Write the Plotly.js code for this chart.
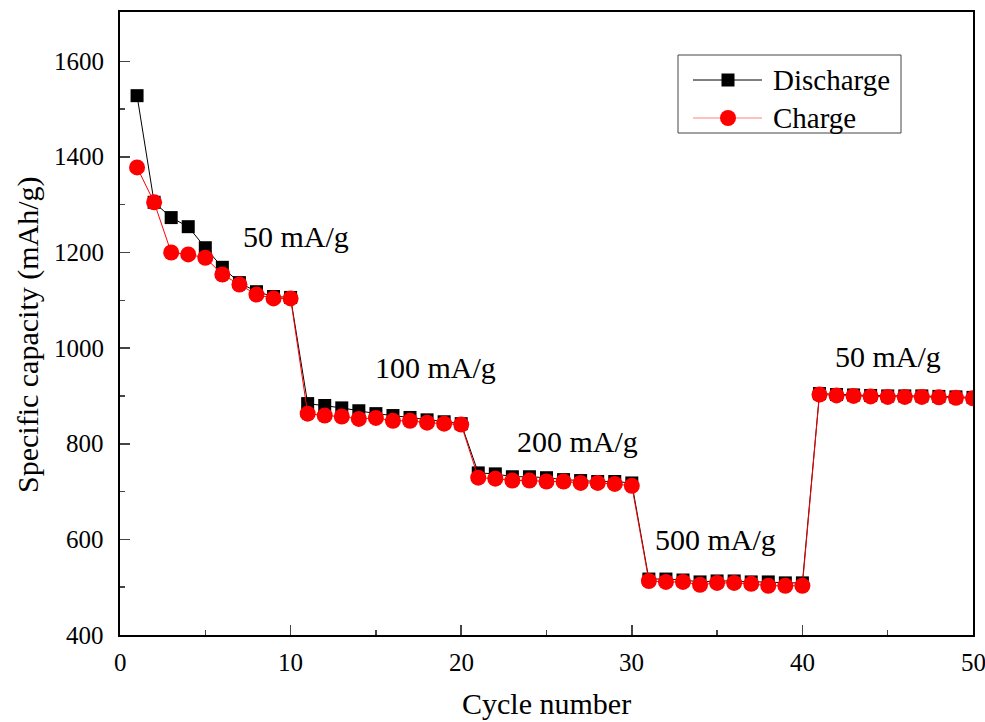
<!DOCTYPE html>
<html>
<head>
<meta charset="utf-8">
<script src="https://cdn.plot.ly/plotly-3.0.1.min.js"></script>
<style>html,body{margin:0;padding:0;background:#fff;}#chart{width:985px;height:722px;}</style>
</head>
<body>
<div id="chart"></div>
<script>
const cycles = [1,2,3,4,5,6,7,8,9,10,11,12,13,14,15,16,17,18,19,20,21,22,23,24,25,26,27,28,29,30,31,32,33,34,35,36,37,38,39,40,41,42,43,44,45,46,47,48,49,50];
const discharge = [1528,1305,1273,1254,1210,1169,1137,1118,1108,1106,
  884,880,875,869,863,859,855,850,846,842,
  739,737,731,731,729,725,723,721,721,718,
  517,517,515,511,513,513,511,511,509,509,
  905,903,902,901,900,900,900,899,898,897];
const charge = [1378,1305,1200,1196,1189,1154,1133,1112,1104,1104,
  863,859,857,852,854,848,848,844,842,840,
  729,727,723,723,721,721,718,718,716,712,
  513,511,511,505,509,509,507,503,503,503,
  903,901,900,899,898,898,898,897,896,895];
const seriesNames = ["Discharge","Charge"];
const xTicks = [0,10,20,30,40,50];
const xMinor = [5,15,25,35,45];
const yTicks = [400,600,800,1000,1200,1400,1600];
const yMinor = [500,700,900,1100,1300,1500];
const xTitle = "Cycle number";
const yTitle = "Specific capacity (mAh/g)";
const rateLabels = ["50 mA/g","100 mA/g","200 mA/g","500 mA/g","50 mA/g"];
const rateX = [10.3,18.5,26.8,34.9,45.0];
const rateY = [1233,959,804,599,982];

const FONT = "'Liberation Serif', 'Times New Roman', serif";
const W = 985, H = 722, ML = 120, MR = 12, MT = 12, MB = 87;
const PW = W - ML - MR, PH = H - MT - MB;
const px = v => (v - ML) / PW;           // pixel x -> paper x
const py = v => (H - MB - v) / PH;       // pixel y -> paper y

const traces = [
  {x: cycles, y: discharge, name: seriesNames[0], type: "scatter", mode: "lines+markers",
   line: {color: "#000000", width: 1},
   marker: {symbol: "square", size: 13, color: "#000000"}},
  {x: cycles, y: charge, name: seriesNames[1], type: "scatter", mode: "lines+markers",
   line: {color: "#ff0000", width: 1},
   marker: {symbol: "circle", size: 16, color: "#ff0000"}}
];

const annotations = rateLabels.map((t,i)=>({
  x: rateX[i], y: rateY[i], xref: "x", yref: "y", text: t, showarrow: false,
  font: {family: FONT, size: 30, color: "#000"}
}));
// tick labels
xTicks.forEach(v => annotations.push({x: v, y: py(662), xref: "x", yref: "paper", text: String(v),
  showarrow: false, xanchor: "center", yanchor: "middle", font: {family: FONT, size: 25, color: "#000"}}));
yTicks.forEach(v => annotations.push({x: px(106), y: v, xref: "paper", yref: "y", text: String(v),
  showarrow: false, xanchor: "right", yanchor: "middle", font: {family: FONT, size: 25, color: "#000"}}));
// axis titles
annotations.push({x: px(546), y: py(703), xref: "paper", yref: "paper", text: xTitle,
  showarrow: false, xanchor: "center", yanchor: "middle", font: {family: FONT, size: 30, color: "#000"}});
annotations.push({x: px(28), y: py(335), xref: "paper", yref: "paper", text: yTitle,
  textangle: -90, showarrow: false, xanchor: "center", yanchor: "middle",
  font: {family: FONT, size: 30, color: "#000"}});
// legend texts
const legRows = [80, 118];
const legColors = ["#000000", "#ff0000"];
seriesNames.forEach((n,i)=>{
  annotations.push({x: px(771), y: py(legRows[i]), xref: "paper", yref: "paper", text: n,
    showarrow: false, xanchor: "left", yanchor: "middle",
    font: {family: FONT, size: 29, color: "#000"}});
});

const shapes = [
  {type: "rect", xref: "paper", yref: "paper", x0: px(678), x1: px(901), y0: py(55), y1: py(133),
   line: {color: "#444", width: 1}, fillcolor: "#fff", layer: "above"},
  {type: "line", xref: "paper", yref: "paper", x0: px(693), x1: px(762), y0: py(legRows[0]), y1: py(legRows[0]),
   line: {color: legColors[0], width: 1}, layer: "above"},
  {type: "rect", xref: "paper", yref: "paper", x0: px(721.5), x1: px(734.5), y0: py(legRows[0]-6.5), y1: py(legRows[0]+6.5),
   line: {width: 0}, fillcolor: legColors[0], layer: "above"},
  {type: "line", xref: "paper", yref: "paper", x0: px(693), x1: px(762), y0: py(legRows[1]), y1: py(legRows[1]),
   line: {color: "#ff8080", width: 1}, layer: "above"},
  {type: "circle", xref: "paper", yref: "paper", x0: px(720), x1: px(736), y0: py(legRows[1]-8), y1: py(legRows[1]+8),
   line: {width: 0}, fillcolor: legColors[1], layer: "above"}
];

const layout = {
  width: W, height: H,
  margin: {l: ML, r: MR, t: MT, b: MB},
  paper_bgcolor: "#fff", plot_bgcolor: "#fff",
  font: {family: FONT, color: "#000", size: 24},
  showlegend: false,
  xaxis: {range: [0, 50], tickmode: "array", tickvals: xTicks, showticklabels: false,
    ticks: "inside", ticklen: 10, tickwidth: 1.5,
    minor: {tickvals: xMinor, ticks: "inside", ticklen: 5, tickwidth: 1.5},
    showgrid: false, zeroline: false, showline: true, linecolor: "#000", linewidth: 2, mirror: true},
  yaxis: {range: [400, 1703], tickmode: "array", tickvals: yTicks, showticklabels: false,
    ticks: "inside", ticklen: 10, tickwidth: 1.5,
    minor: {tickvals: yMinor, ticks: "inside", ticklen: 5, tickwidth: 1.5},
    showgrid: false, zeroline: false, showline: true, linecolor: "#000", linewidth: 2, mirror: true},
  annotations: annotations,
  shapes: shapes
};

Plotly.newPlot("chart", traces, layout, {displayModeBar: false, staticPlot: true});
</script>
</body>
</html>
